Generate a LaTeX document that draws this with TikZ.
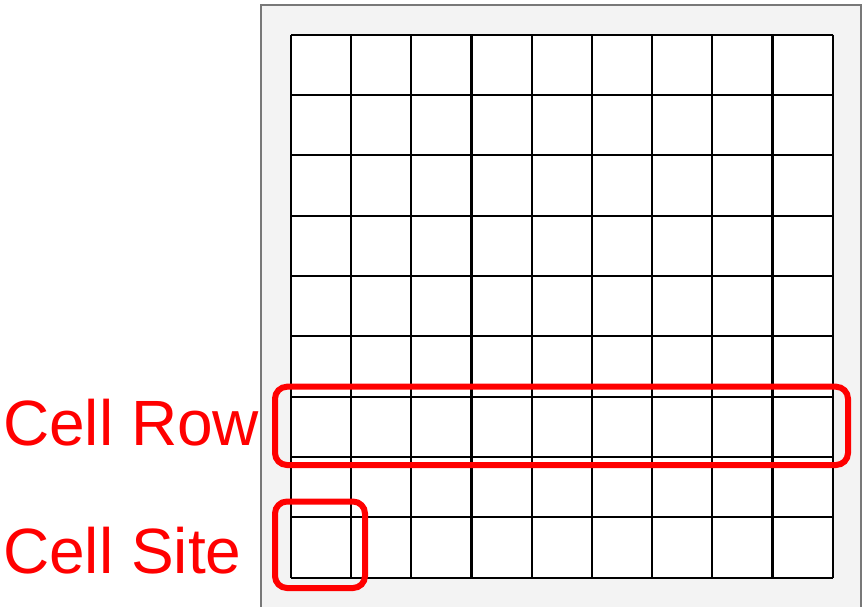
\documentclass[tikz,border=0pt]{standalone}
\usepackage{fontspec}
\setmainfont{Liberation Sans}
\begin{document}
\begin{tikzpicture}[x=1pt,y=-1pt,
  lbl/.style={anchor=base west,inner sep=0pt,text=red,font=\fontsize{64}{77}\selectfont},
  redbox/.style={draw=red,line width=6pt,rounded corners=12pt},
  gridline/.style={black,line width=2.2pt}]
\clip (0,0) rectangle (865,606);
\fill[white] (0,0) rectangle (865,606);
\draw[draw={rgb,255:red,120;green,120;blue,120},fill={rgb,255:red,243;green,243;blue,243},line width=2.4pt] (261,5) rectangle (861,640);
\fill[white] (291,34.7) rectangle (832.7,577.7);
\foreach \i in {0,...,9} {
  \draw[gridline] ({291+\i*60.19},34.7) -- ({291+\i*60.19},577.7);
  \draw[gridline] (291,{34.7+\i*60.33}) -- (832.7,{34.7+\i*60.33});
}
\draw[redbox] (275,386.7) rectangle (848,465) node[pos=0.5] (row) {};
\draw[redbox] (275,501.5) rectangle (365,588) node[pos=0.5] (site) {};
\node[lbl] (rowlabel) at (3,445.5) {Cell Row};
\node[lbl] (sitelabel) at (3,573) {Cell Site};
\end{tikzpicture}
\end{document}
